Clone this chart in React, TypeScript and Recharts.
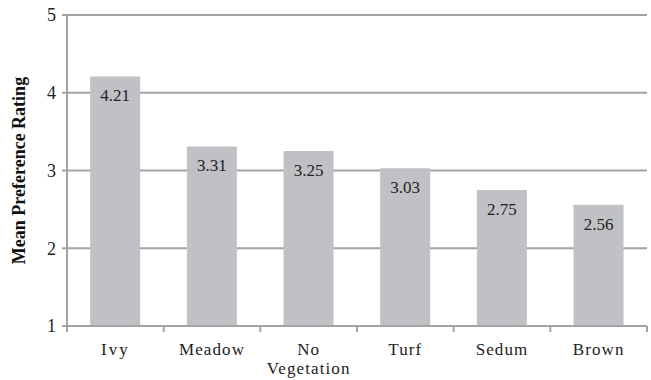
import React from "react";
import {
  Bar,
  BarChart,
  CartesianGrid,
  LabelList,
  XAxis,
  YAxis,
} from "recharts";

const categories = ["Ivy", "Meadow", "No Vegetation", "Turf", "Sedum", "Brown"];
const ratings = [4.21, 3.31, 3.25, 3.03, 2.75, 2.56];
const yTicks = [1, 2, 3, 4, 5];

const data = categories.map((name, i) => ({ name, rating: ratings[i] }));

const WIDTH = 651;
const HEIGHT = 380;
const Y_AXIS_W = 67;
const X_AXIS_H = 54;
const MARGIN = { top: 15, right: 4, bottom: 0, left: 0 };
const BAND = (WIDTH - Y_AXIS_W - MARGIN.right) / categories.length;
const FONT = "'Liberation Serif', 'DejaVu Serif', serif";
const AXIS_GRAY = "#a3a3a3";

// category label centred in its band, with tick marks on the band edges
function CategoryTick(props: any) {
  const { x, y, payload, index } = props;
  const words = String(payload.value).split(" ");
  const left = x - BAND / 2;
  const right = x + BAND / 2;
  return (
    <g>
      <line x1={left} y1={y - 8} x2={left} y2={y - 2} stroke={AXIS_GRAY} strokeWidth={2} />
      {index === categories.length - 1 && (
        <line x1={right} y1={y - 8} x2={right} y2={y - 2} stroke={AXIS_GRAY} strokeWidth={2} />
      )}
      <text x={x} textAnchor="middle" style={{ fontFamily: FONT, fontSize: 17 }} fill="#222">
        {words.map((w, i) => (
          <tspan key={w} x={x} y={y + 21 + i * 19} letterSpacing={w === "Ivy" ? 2 : 1.1}>
            {w}
          </tspan>
        ))}
      </text>
    </g>
  );
}

export default function App() {
  return (
    <div style={{ position: "absolute", left: 0, top: 0, background: "#fff", fontFamily: FONT }}>
      <BarChart width={WIDTH} height={HEIGHT} data={data} margin={MARGIN} barCategoryGap="24%">
        <CartesianGrid vertical={false} stroke={AXIS_GRAY} strokeWidth={2} />
        <XAxis
          dataKey="name"
          interval={0}
          height={X_AXIS_H}
          axisLine={{ stroke: AXIS_GRAY, strokeWidth: 2 }}
          tickLine={false}
          tick={<CategoryTick />}
        />
        <YAxis
          domain={[1, 5]}
          ticks={yTicks}
          allowDataOverflow
          width={Y_AXIS_W}
          axisLine={{ stroke: AXIS_GRAY, strokeWidth: 2 }}
          tickLine={{ stroke: AXIS_GRAY, strokeWidth: 2 }}
          tickSize={5}
          tick={{ style: { fontFamily: FONT, fontSize: 18 }, fill: "#222" }}
          tickMargin={6}
          label={{
            value: "Mean Preference Rating",
            angle: -90,
            position: "center",
            dx: -15,
            style: { fontFamily: FONT, fontSize: 18, fontWeight: "bold", fill: "#111", textAnchor: "middle" },
          }}
        />
        <Bar dataKey="rating" fill="#c0c1c4" isAnimationActive={false}>
          <LabelList
            dataKey="rating"
            position="insideTop"
            offset={13}
            formatter={(v: any) => Number(v).toFixed(2)}
            style={{ fontFamily: FONT, fontSize: 17, fill: "#222" }}
          />
        </Bar>
      </BarChart>
    </div>
  );
}
